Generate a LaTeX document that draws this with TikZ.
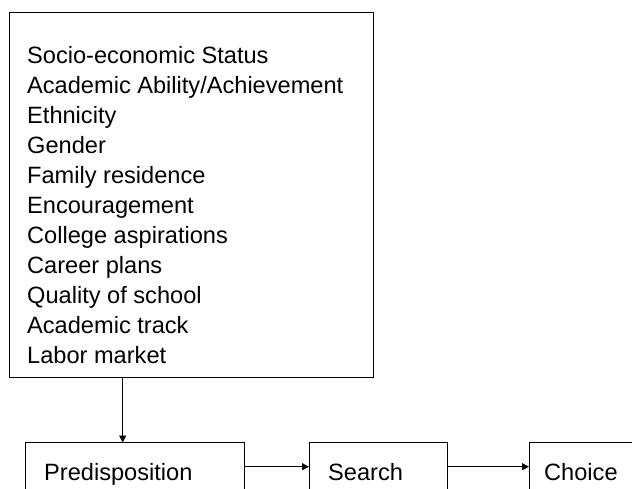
\documentclass[tikz,border=0pt]{standalone}
\usepackage{fontspec}
\setmainfont{Liberation Sans}
\usetikzlibrary{arrows.meta}
\begin{document}
\begin{tikzpicture}[x=1pt,y=-1pt,
  box/.style={draw=black, line width=0.8pt, anchor=north west, inner sep=0pt, outer sep=0pt},
  txt/.style={anchor=base west, inner sep=0pt, font=\fontsize{23.6}{29.9}\selectfont},
  arr/.style={draw=black, line width=0.8pt, -{Triangle[length=7pt,width=7pt]}}]
  \useasboundingbox (0,0) rectangle (632,489);
  \clip (0,0) rectangle (632,489);

  % factor list
  \node[box, minimum width=364pt, minimum height=365pt] (factors) at (9,12) {};
  \foreach \t [count=\i] in {Socio-economic Status, Academic Ability/Achievement, Ethnicity,
      Gender, Family residence, Encouragement, College aspirations, Career plans,
      Quality of school, Academic track, Labor market}
    \node[txt] (f\i) at (27, {64 + (\i-1)*29.9}) {\t};

  % stage boxes
  \node[box, minimum width=219pt, minimum height=48.4pt] (pre) at (25,442.5) {};
  \node[box, minimum width=138pt, minimum height=48.4pt] (search) at (309,442.5) {};
  \node[box, minimum width=140pt, minimum height=48.4pt] (choice) at (529,442.5) {};
  \node[txt] (pret) at (44,480) {Predisposition};
  \node[txt] (searcht) at (328,480) {Search};
  \node[txt] (choicet) at (544,480) {Choice};

  % connectors
  \coordinate (drop) at (122.7,0);
  \draw[arr] (factors.south -| drop) -- (pre.north -| drop);
  \draw[arr] (pre) -- (search);
  \draw[arr] (search) -- (choice);
\end{tikzpicture}
\end{document}
